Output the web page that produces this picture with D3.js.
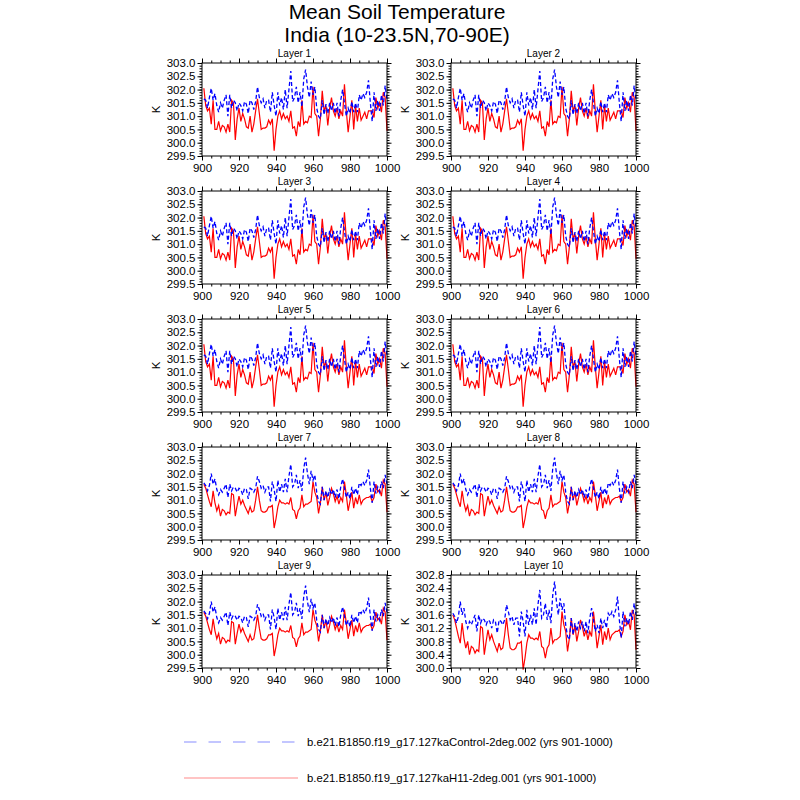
<!DOCTYPE html>
<html>
<head>
<meta charset="utf-8">
<script src="https://cdn.jsdelivr.net/npm/d3@7"></script>
<style>
  body { margin: 0; background: #fff; }
  svg { font-family: "Liberation Sans", Arial, sans-serif; }
</style>
</head>
<body>
<svg id="chart" width="800" height="800"></svg>
<script>
// ── Data ──────────────────────────────────────────────────────────────────────
const years = d3.range(901, 1001);

// Control run, layers 1-6 (shallow soil)
const ctlShallow = [
  301.65,301.6,301.3,301.7,302.05,301.6,301.85,301.4,301.15,301.5,
  301.3,301.6,301.8,301.0,301.8,301.3,301.6,301.5,301.2,301.5,
  301.4,301.2,301.55,301.45,301.1,301.6,301.5,301.25,301.55,302.1,
  301.7,301.5,301.65,301.3,301.6,301.6,301.15,301.9,301.4,301.0,
  301.9,301.4,301.7,301.25,302.0,301.3,302.0,302.7,301.55,301.7,
  302.1,301.5,301.9,301.35,302.4,302.75,302.1,301.7,302.3,301.8,
  302.1,301.3,301.0,300.9,301.6,301.05,301.45,301.1,301.5,301.2,
  301.5,301.1,301.5,301.0,301.6,302.0,301.5,301.0,301.3,301.1,
  301.55,301.15,301.5,301.15,301.8,301.6,301.85,301.7,301.9,302.35,
  301.5,300.8,301.9,301.2,301.6,301.2,301.8,301.4,302.15,301.6
];

// H11 run, layers 1-6
const h11Shallow = [
  302.05,301.4,301.2,301.3,300.7,301.6,300.5,300.5,300.8,300.45,
  300.65,300.6,300.4,300.7,300.4,301.6,301.5,300.1,300.9,301.3,
  300.8,301.1,300.9,300.6,300.55,301.0,300.4,300.7,301.2,301.65,
  301.1,300.5,300.55,300.55,300.6,300.85,300.7,300.9,299.7,300.5,
  301.0,301.2,300.9,301.1,300.9,301.0,300.8,301.2,300.55,300.6,
  300.25,300.8,300.6,301.6,300.7,300.8,300.75,301.0,300.95,302.1,
  301.1,301.0,300.25,300.9,301.95,301.2,301.4,300.65,301.3,301.7,
  301.2,301.0,301.3,300.9,301.2,301.0,302.2,301.2,300.4,301.0,
  301.6,300.5,301.4,300.8,301.3,300.85,301.0,301.15,300.9,301.2,
  301.2,301.2,300.95,301.7,301.3,301.5,301.15,301.9,301.7,300.45
];

// Control run, layers 7-10 (deep soil)
const ctlDeep = [
  301.65,301.55,301.35,301.55,302.0,301.6,301.8,301.4,301.2,301.4,
  301.3,301.45,301.6,301.1,301.6,301.35,301.5,301.45,301.3,301.45,
  301.4,301.2,301.45,301.4,301.05,301.45,301.4,301.3,301.45,301.9,
  301.7,301.45,301.55,301.3,301.5,301.5,300.95,301.7,301.4,300.95,
  301.75,301.3,301.6,301.3,301.8,301.3,301.9,302.35,301.5,301.6,
  301.95,301.45,301.75,301.35,302.2,302.6,302.0,301.6,302.1,301.75,
  301.95,301.3,300.95,300.85,301.5,301.0,301.35,301.1,301.4,301.2,
  301.4,301.1,301.4,301.05,301.5,301.8,301.45,301.1,301.3,301.05,
  301.5,301.2,301.45,301.2,301.65,301.55,301.7,301.55,301.75,302.15,
  301.45,300.9,301.7,301.25,301.5,301.3,301.7,301.45,301.95,301.6
];

// H11 run, layers 7-10
const h11Deep = [
  301.6,301.45,301.2,300.95,300.75,301.35,300.9,300.6,300.8,300.4,
  300.65,300.6,300.45,300.55,300.5,301.25,301.2,300.4,300.8,301.15,
  300.85,301.0,300.8,300.65,300.5,300.75,300.55,300.6,301.0,301.5,
  301.0,300.6,300.55,300.55,300.6,300.75,300.75,300.8,299.95,300.3,
  300.75,301.0,300.9,300.9,300.85,300.9,300.85,301.1,300.65,300.6,
  300.3,300.6,300.7,301.2,300.75,300.85,300.85,300.9,300.95,301.7,
  301.3,301.1,300.5,300.9,301.5,301.0,301.3,300.8,301.1,301.45,
  301.25,300.95,301.15,300.85,301.1,300.95,301.7,301.2,300.6,300.95,
  301.3,300.7,301.1,300.85,301.2,300.85,301.0,301.05,301.1,301.1,
  301.15,300.95,301.1,301.6,301.3,301.4,301.15,301.75,301.6,300.55
];

const layerNames = ["Layer 1","Layer 2","Layer 3","Layer 4","Layer 5",
                    "Layer 6","Layer 7","Layer 8","Layer 9","Layer 10"];
const layerCtl = [ctlShallow,ctlShallow,ctlShallow,ctlShallow,ctlShallow,
                  ctlShallow,ctlDeep,ctlDeep,ctlDeep,ctlDeep];
const layerH11 = [h11Shallow,h11Shallow,h11Shallow,h11Shallow,h11Shallow,
                  h11Shallow,h11Deep,h11Deep,h11Deep,h11Deep];

const yTicksStd = [299.5,300.0,300.5,301.0,301.5,302.0,302.5,303.0];
const yTicksL10 = [300.0,300.4,300.8,301.2,301.6,302.0,302.4,302.8];
const xTicks = [900,920,940,960,980,1000];

const legendLabels = [
  "b.e21.B1850.f19_g17.127kaControl-2deg.002 (yrs 901-1000)",
  "b.e21.B1850.f19_g17.127kaH11-2deg.001 (yrs 901-1000)"
];

// ── Layout ────────────────────────────────────────────────────────────────────
const colX = [202, 451];
const rowY = [63, 191, 319, 447, 575];
const plotW = 185, plotH = 93;

const svg = d3.select("#chart");

svg.append("text").attr("x", 397).attr("y", 19).attr("text-anchor", "middle")
  .attr("font-size", 21).text("Mean Soil Temperature");
svg.append("text").attr("x", 397).attr("y", 42).attr("text-anchor", "middle")
  .attr("font-size", 21).text("India (10-23.5N,70-90E)");

const x = d3.scaleLinear().domain([900, 1000]).range([0, plotW]);
const xMinor = d3.range(900, 1001, 5);

layerNames.forEach((name, i) => {
  const col = i % 2, row = Math.floor(i / 2);
  const yTicks = i === 9 ? yTicksL10 : yTicksStd;
  const yDom = [yTicks[0], yTicks[yTicks.length - 1]];
  const y = d3.scaleLinear().domain(yDom).range([plotH, 0]);
  const yMinor = d3.range(Math.round(yDom[0] * 10), Math.round(yDom[1] * 10) + 1).map((v) => v / 10);

  const g = svg.append("g").attr("transform", `translate(${colX[col]},${rowY[row]})`);

  // minor ticks
  const minorAxes = [
    [d3.axisLeft(y).tickValues(yMinor), null],
    [d3.axisRight(y).tickValues(yMinor), `translate(${plotW},0)`],
    [d3.axisBottom(x).tickValues(xMinor), `translate(0,${plotH})`],
    [d3.axisTop(x).tickValues(xMinor), null],
  ];
  minorAxes.forEach(([ax, tr]) => {
    const a = g.append("g").call(ax.tickSize(2.5).tickFormat(""));
    if (tr) a.attr("transform", tr);
    a.select(".domain").remove();
  });

  // major ticks with labels (left, bottom)
  const yl = g.append("g").call(d3.axisLeft(y).tickValues(yTicks).tickSize(4.5).tickPadding(2)
    .tickFormat(d3.format(".1f")));
  yl.selectAll("text").attr("font-size", 11.5).attr("font-family", null).attr("fill", "#000");
  yl.select(".domain").remove();

  const xl = g.append("g").attr("transform", `translate(0,${plotH})`)
    .call(d3.axisBottom(x).tickValues(xTicks).tickSize(4.5).tickPadding(3).tickFormat(d3.format("d")));
  xl.selectAll("text").attr("font-size", 11.5).attr("font-family", null).attr("fill", "#000");
  xl.select(".domain").remove();

  const yr = g.append("g").attr("transform", `translate(${plotW},0)`)
    .call(d3.axisRight(y).tickValues(yTicks).tickSize(4.5).tickFormat(""));
  yr.select(".domain").remove();
  const xt = g.append("g").call(d3.axisTop(x).tickValues(xTicks).tickSize(4.5).tickFormat(""));
  xt.select(".domain").remove();

  g.selectAll(".tick line").attr("stroke", "#000");

  // series
  const line = d3.line().x((d, k) => x(years[k])).y((d) => y(d));
  g.append("path").datum(layerH11[i]).attr("d", line)
    .attr("fill", "none").attr("stroke", "#ff0000").attr("stroke-width", 1.2);
  g.append("path").datum(layerCtl[i]).attr("d", line)
    .attr("fill", "none").attr("stroke", "#0000ff").attr("stroke-width", 1.3)
    .attr("stroke-dasharray", "4,2.5");

  // frame
  g.append("rect").attr("width", plotW).attr("height", plotH)
    .attr("fill", "none").attr("stroke", "#000").attr("stroke-width", 1);

  g.append("text").attr("x", plotW / 2).attr("y", -6).attr("text-anchor", "middle")
    .attr("font-size", 10).text(name);
  g.append("text").attr("transform", `translate(-42,${plotH / 2}) rotate(-90)`)
    .attr("text-anchor", "middle").attr("font-size", 11.5).text("K");
});

// ── Legend ────────────────────────────────────────────────────────────────────
const legendY = [742, 778];
const legendStyle = [
  { stroke: "#b0b4ff", dash: "12.5,12" },
  { stroke: "#ffb0b0", dash: null },
];
legendLabels.forEach((lab, i) => {
  svg.append("line").attr("x1", 184).attr("x2", i === 0 ? 300 : 298)
    .attr("y1", legendY[i]).attr("y2", legendY[i])
    .attr("stroke", legendStyle[i].stroke).attr("stroke-width", 1.3)
    .attr("stroke-dasharray", legendStyle[i].dash);
  svg.append("text").attr("x", 307).attr("y", legendY[i] + 4)
    .attr("font-size", 11.3).text(lab);
});
</script>
</body>
</html>
